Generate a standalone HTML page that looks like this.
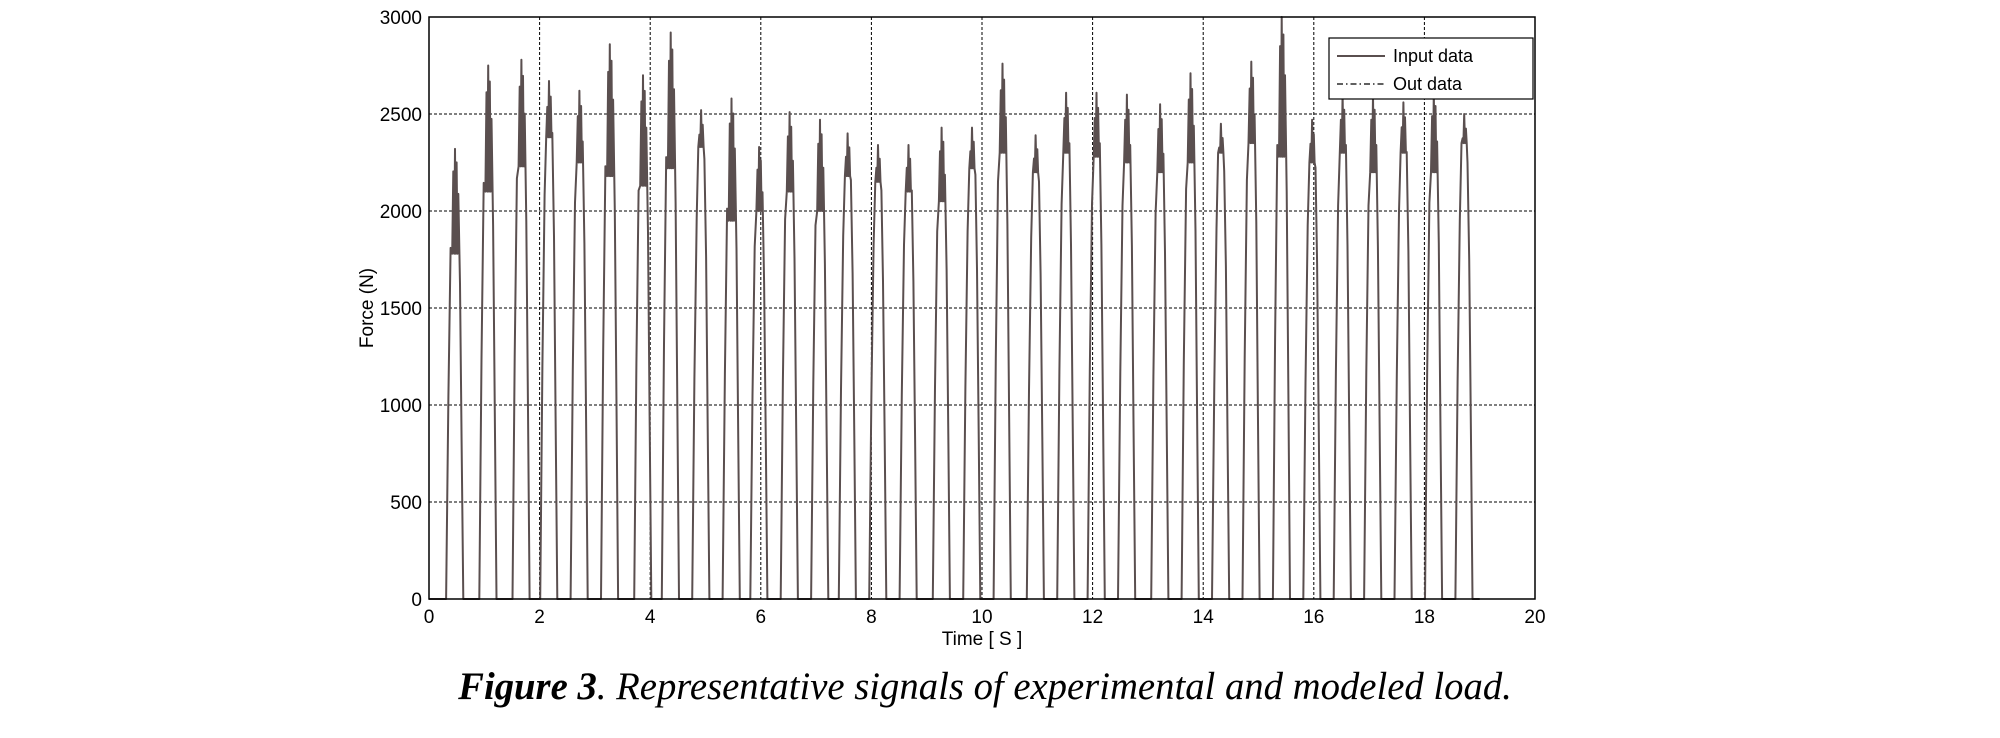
<!DOCTYPE html>
<html><head><meta charset="utf-8">
<style>
body{margin:0;background:#fff;width:2000px;height:738px;overflow:hidden}
svg{display:block}
text{font-family:"Liberation Sans",Arial,sans-serif;fill:#000}
</style></head><body>
<svg id="chart" width="2000" height="738">
<g id="grid"></g>
<g id="series"></g>
<rect x="429" y="17" width="1106" height="582" fill="none" stroke="#000" stroke-width="1.5"/>
<g id="ticks"></g>
<text x="982" y="645" font-size="19" text-anchor="middle">Time [ S ]</text>
<text transform="translate(373,308) rotate(-90)" font-size="19" text-anchor="middle">Force  (N)</text>
<g>
<rect x="1329" y="38" width="204" height="61" fill="#fff" stroke="#000" stroke-width="1.2"/>
<line x1="1337" y1="56" x2="1385" y2="56" stroke="#5a4f4f" stroke-width="2"/>
<text x="1393" y="62" font-size="18">Input data</text>
<line x1="1337" y1="84" x2="1385" y2="84" stroke="#000" stroke-width="1.2" stroke-dasharray="6,3,1.5,3"/>
<text x="1393" y="90" font-size="18">Out data</text>
</g>
<text x="985" y="699" font-size="38.7" text-anchor="middle" font-style="italic" style="font-family:'Liberation Serif',serif"><tspan font-weight="bold">Figure 3</tspan>. Representative signals of experimental and modeled load.</text>
</svg>
<script>
const xTicks=[0,2,4,6,8,10,12,14,16,18,20];
const yTicks=[0,500,1000,1500,2000,2500,3000];
const pulseTimes=[0.5,1.1,1.7,2.2,2.75,3.3,3.9,4.4,4.95,5.5,6.0,6.55,7.1,7.6,8.15,8.7,9.3,9.85,10.4,11.0,11.55,12.1,12.65,13.25,13.8,14.35,14.9,15.45,16.0,16.55,17.1,17.65,18.2,18.75];
const pulsePeaks=[2320,2750,2780,2670,2620,2860,2700,2920,2520,2580,2330,2510,2470,2400,2340,2340,2430,2430,2760,2390,2610,2610,2600,2550,2710,2450,2770,3000,2470,2600,2600,2560,2620,2500];
const pulseLows=[1780,2100,2230,2380,2250,2180,2130,2220,2330,1950,2000,2100,2000,2180,2150,2100,2050,2220,2300,2200,2300,2280,2250,2200,2250,2300,2350,2280,2250,2300,2200,2300,2200,2350];
const X0=429,X1=1535,Y0=599,Y1=17;
const xs=v=>X0+(v/20)*(X1-X0);
const ys=v=>Y0-(v/3000)*(Y0-Y1);
const NS="http://www.w3.org/2000/svg";
const grid=document.getElementById('grid'),ticks=document.getElementById('ticks'),series=document.getElementById('series');
function mk(tag,attrs,parent){const e=document.createElementNS(NS,tag);for(const k in attrs)e.setAttribute(k,attrs[k]);parent.appendChild(e);return e;}
xTicks.forEach(t=>{
  const x=xs(t);
  if(t>0&&t<20){const l=mk('line',{x1:x,y1:Y1,x2:x,y2:Y0,stroke:'#000','stroke-width':1,'stroke-dasharray':'3,2'},grid);
  
  }
  const tx=mk('text',{x:x,y:623,'font-size':19,'text-anchor':'middle'},ticks);tx.textContent=t;
  
  
});
yTicks.forEach(t=>{
  const y=ys(t);
  if(t>0&&t<3000){const l=mk('line',{x1:X0,y1:y,x2:X1,y2:y,stroke:'#000','stroke-width':1,'stroke-dasharray':'3,2'},grid);
  
  }
  const tx=mk('text',{x:X0-7,y:y+7,'font-size':19,'text-anchor':'end'},ticks);tx.textContent=t;
  
  
});
let d='M'+xs(0)+','+ys(0);
pulseTimes.forEach((t,i)=>{
  const p=pulsePeaks[i],lo=pulseLows[i];
  const shape=[[-0.19,0],[-0.15,p*0.45],[-0.11,p*0.78],[-0.08,lo],[-0.06,p*0.95],[-0.045,lo],[-0.03,p],[-0.015,lo],[0,p*0.97],[0.015,lo],[0.03,p*0.9],[0.06,p*0.7],[0.09,p*0.35],[0.12,0]];
  shape.forEach(s=>{d+=' L'+xs(t+s[0]).toFixed(1)+','+ys(s[1]).toFixed(1);});
});
d+=' L'+xs(19)+','+ys(0);
const path=mk('path',{d:d,fill:'none',stroke:'#5a4f4f','stroke-width':2,'stroke-linejoin':'round'},series);


</script>
</body></html>
